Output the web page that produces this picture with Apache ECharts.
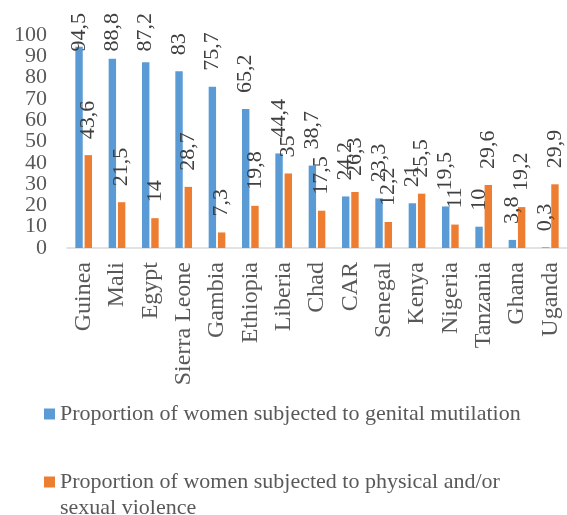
<!DOCTYPE html>
<html>
<head>
<meta charset="utf-8">
<script src="https://cdn.jsdelivr.net/npm/echarts@6/dist/echarts.min.js"></script>
<style>
html,body{margin:0;padding:0;background:#fff;}
#c{width:567px;height:515px;}
</style>
</head>
<body>
<div id="c"></div>
<script>
const countries = ['Guinea','Mali','Egypt','Sierra Leone','Gambia','Ethiopia','Liberia','Chad','CAR','Senegal','Kenya','Nigeria','Tanzania','Ghana','Uganda'];
const mutilation = [94.5, 88.8, 87.2, 83, 75.7, 65.2, 44.4, 38.7, 24.2, 23.3, 21, 19.5, 10, 3.8, 0.3];
const violence = [43.6, 21.5, 14, 28.7, 7.3, 19.8, 35, 17.5, 26.3, 12.2, 25.5, 11, 29.6, 19.2, 29.9];
const yTicks = [0, 10, 20, 30, 40, 50, 60, 70, 80, 90, 100];
const name1 = 'Proportion of women subjected to genital mutilation';
const name2 = 'Proportion of women subjected to physical and/or sexual violence';

const FONT = '"Liberation Serif", "Times New Roman", serif';
const FS = 22;
const fmt = v => String(v).replace('.', ',');
const yMin = yTicks[0], yMax = yTicks[yTicks.length - 1];

const labelStyle = {
  show: true,
  position: 'top',
  rotate: 90,
  align: 'left',
  verticalAlign: 'middle',
  distance: 16,
  fontFamily: FONT,
  fontSize: FS,
  color: '#404040',
  formatter: p => fmt(p.value)
};

function yAxisDef(showEnds) {
  return {
    type: 'value',
    position: 'left',
    min: yMin,
    max: yMax,
    interval: yTicks[1] - yTicks[0],
    axisLine: {show: false},
    axisTick: {show: false},
    splitLine: {show: false},
    axisLabel: showEnds ? {
      margin: 20, fontFamily: FONT, fontSize: FS, color: '#595959',
      showMinLabel: true, showMaxLabel: true,
      formatter: v => (v === yMin || v === yMax) ? String(v) : ''
    } : {
      margin: 20, fontFamily: FONT, fontSize: FS, color: '#595959'
    }
  };
}

const chart = echarts.init(document.getElementById('c'), null, {renderer: 'canvas'});
const option = {
  animation: false,
  backgroundColor: '#fff',
  grid: {left: 67, right: 0, top: 35, bottom: 267, containLabel: false},
  xAxis: {
    type: 'category',
    data: countries,
    axisLine: {lineStyle: {color: '#d9d9d9', width: 1.5}},
    axisTick: {show: false},
    axisLabel: {rotate: 90, margin: 14, interval: 0, fontFamily: FONT, fontSize: 24, color: '#595959'}
  },
  yAxis: [yAxisDef(false), yAxisDef(true)],
  legend: [
    {
      orient: 'vertical', left: 44, top: 403, padding: 0,
      data: [name1], icon: 'rect', itemWidth: 11, itemHeight: 11,
      textStyle: {fontFamily: FONT, fontSize: FS, color: '#595959'}
    },
    {
      orient: 'vertical', left: 44, top: 445, padding: 0,
      data: [name2], icon: 'rect', itemWidth: 11, itemHeight: 11,
      formatter: n => '{s| }\n{t|' + n.replace(' sexual', '}\n{t|sexual') + '}',
      textStyle: {
        fontFamily: FONT, fontSize: FS, color: '#595959',
        rich: {
          s: {fontFamily: FONT, fontSize: FS, lineHeight: 26},
          t: {fontFamily: FONT, fontSize: FS, color: '#595959', lineHeight: 26}
        }
      }
    }
  ],
  series: [
    {name: name1, type: 'bar', yAxisIndex: 0, data: mutilation, itemStyle: {color: '#5B9BD5'}, barCategoryGap: '50%', barGap: '25%', label: labelStyle},
    {name: name2, type: 'bar', yAxisIndex: 0, data: violence, itemStyle: {color: '#ED7D31'}, barCategoryGap: '50%', barGap: '25%', label: labelStyle}
  ]
};
chart.setOption(option);

const ctx = document.createElement('canvas').getContext('2d');
ctx.font = FS + 'px ' + FONT;
function adjust(si, values) {
  return values.map((v, i) => {
    const y = chart.convertToPixel({seriesIndex: si}, [i, v])[1];
    const w = ctx.measureText(fmt(v)).width;
    let d = 16;
    if (y - d - w < 13) d = y - 13 - w;
    return {value: v, label: {distance: d}};
  });
}
chart.setOption({series: [{data: adjust(0, mutilation)}, {data: adjust(1, violence)}]});
</script>
</body>
</html>
